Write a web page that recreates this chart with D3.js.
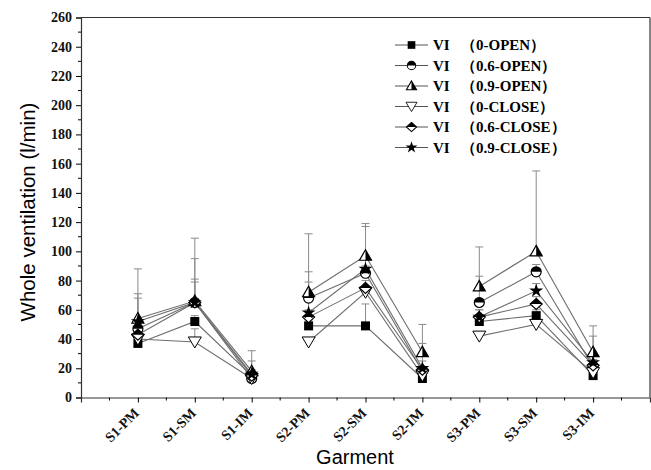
<!DOCTYPE html>
<html>
<head>
<meta charset="utf-8">
<script src="https://cdn.jsdelivr.net/npm/d3@7"></script>
<style>
  body { margin: 0; background: #fff; }
  svg { display: block; }
  .tick text { font-family: "Liberation Serif", "DejaVu Serif", serif; font-weight: bold; }
</style>
</head>
<body>
<svg id="chart" width="651" height="470"></svg>
<script>
var categories = ["S1-PM", "S1-SM", "S1-IM", "S2-PM", "S2-SM", "S2-IM", "S3-PM", "S3-SM", "S3-IM"]
var yTicks = [0, 20, 40, 60, 80, 100, 120, 140, 160, 180, 200, 220, 240, 260]

var seriesLabels = ["（0-OPEN）", "（0.6-OPEN）", "（0.9-OPEN）",
                    "（0-CLOSE）", "（0.6-CLOSE）", "（0.9-CLOSE）"]
var seriesSymbols = ["square", "halfCircle", "halfTriangle", "downTriangle", "halfDiamond", "star"]

var open0   = [37, 52, 15, 49, 49, 13, 52, 56, 15]
var open06  = [47, 65, 13, 68, 85, 18, 65, 86, 21]
var open09  = [54, 66, 18, 72, 97, 31, 76, 100, 31]
var close0  = [40, 38, 13, 38, 72, 15, 42, 50, 17]
var close06 = [43, 65, 15, 55, 75, 19, 55, 64, 22]
var close09 = [52, 65, 16, 58, 88, 20, 55, 73, 24]

// upper error (SD)
var open0Err   = [3, 4, 3, 4, 15, 3, 3, 4, 3]
var open06Err  = [24, 30, 3, 18, 5, 3, 18, 5, 3]
var open09Err  = [34, 43, 14, 40, 22, 19, 27, 55, 18]
var close0Err  = [3, 9, 3, 3, 4, 3, 3, 4, 3]
var close06Err = [5, 14, 4, 5, 5, 18, 5, 5, 4]
var close09Err = [16, 16, 9, 21, 29, 5, 5, 5, 18]

var seriesValues = [open0, open06, open09, close0, close06, close09]
var seriesErrors = [open0Err, open06Err, open09Err, close0Err, close06Err, close09Err]

var svg = d3.select("#chart")
var plotLeft = 81, plotRight = 650, plotTop = 17.5, plotBottom = 397.5

var x = d3.scaleLinear().domain([0, 10]).range([plotLeft, plotRight])
var y = d3.scaleLinear().domain([0, 260]).range([plotBottom, plotTop])

// frame
svg.append("line").attr("x1", plotLeft).attr("x2", plotRight).attr("y1", plotTop).attr("y2", plotTop)
  .attr("stroke", "#333").attr("stroke-width", 1.2)
svg.append("line").attr("x1", plotRight).attr("x2", plotRight).attr("y1", plotTop).attr("y2", plotBottom)
  .attr("stroke", "#333").attr("stroke-width", 1.2)

// y axis
var yAxis = svg.append("g").attr("transform", "translate(" + plotLeft + ",0)")
  .call(d3.axisLeft(y).tickValues(yTicks).tickSize(5).tickPadding(4))
yAxis.selectAll("text").style("font-size", "14px").attr("fill", "#111")
yAxis.append("g").selectAll("line").data(d3.range(10, 260, 20)).enter().append("line")
  .attr("x1", 0).attr("x2", -3).attr("y1", function(d) { return y(d) }).attr("y2", function(d) { return y(d) })
  .attr("stroke", "#000")

// x axis
var xAxis = svg.append("g").attr("transform", "translate(0," + plotBottom + ")")
  .call(d3.axisBottom(x).tickValues(d3.range(1, 10)).tickSize(5)
    .tickFormat(function(d) { return categories[d - 1] }))
xAxis.selectAll("text")
  .style("font-size", "14px").attr("fill", "#111")
  .attr("text-anchor", "end")
  .attr("x", 0).attr("y", 0).attr("dy", "0.35em")
  .attr("transform", "translate(-2,13) rotate(-45)")
xAxis.append("g").selectAll("line").data(d3.range(0.5, 10, 1)).enter().append("line")
  .attr("x1", function(d) { return x(d) }).attr("x2", function(d) { return x(d) })
  .attr("y1", 0).attr("y2", 3).attr("stroke", "#000")
svg.selectAll(".domain").attr("stroke", "#333").attr("stroke-width", 1.2)

// axis titles
svg.append("text")
  .attr("transform", "translate(35,212) rotate(-90)")
  .attr("text-anchor", "middle")
  .style("font-family", "'Liberation Sans', Arial, sans-serif").style("font-size", "20.5px")
  .text("Whole ventilation (l/min)")
svg.append("text")
  .attr("x", 355).attr("y", 464).attr("text-anchor", "middle")
  .style("font-family", "'Liberation Sans', Arial, sans-serif").style("font-size", "20px")
  .text("Garment")

// marker drawing
function drawMarker(g, type, cx, cy, k) {
  k = k || 1
  var m = g.append("g").attr("transform", "translate(" + cx + "," + cy + ") scale(" + k + ")")
  if (type === "square") {
    m.append("rect").attr("x", -4.5).attr("y", -4.5).attr("width", 9).attr("height", 9).attr("fill", "#000")
  } else if (type === "halfCircle") {
    m.append("circle").attr("r", 5).attr("fill", "#fff").attr("stroke", "#000").attr("stroke-width", 1.2)
    m.append("path").attr("d", "M-5,0 A5,5 0 0 1 5,0 Z").attr("fill", "#000")
  } else if (type === "halfTriangle") {
    m.append("path").attr("d", "M0,-6 L6,4.5 L-6,4.5 Z").attr("fill", "#fff").attr("stroke", "#000").attr("stroke-width", 1.2)
    m.append("path").attr("d", "M0,-6 L6,4.5 L0,4.5 Z").attr("fill", "#000")
  } else if (type === "downTriangle") {
    m.append("path").attr("d", "M-6.5,-5 L6.5,-5 L0,6 Z").attr("fill", "#fff").attr("stroke", "#000").attr("stroke-width", 1)
  } else if (type === "halfDiamond") {
    m.append("path").attr("d", "M0,-5.5 L6,0 L0,5.5 L-6,0 Z").attr("fill", "#fff").attr("stroke", "#000").attr("stroke-width", 1.2)
    m.append("path").attr("d", "M0,-5.5 L6,0 L-6,0 Z").attr("fill", "#000")
  } else if (type === "star") {
    m.append("path").attr("d", d3.symbol().type(d3.symbolStar).size(60)()).attr("fill", "#000")
  }
}

var plot = svg.append("g")
var groups = [[0, 1, 2], [3, 4, 5], [6, 7, 8]]

// lines
seriesValues.forEach(function(vals) {
  groups.forEach(function(idx) {
    plot.append("path")
      .datum(idx)
      .attr("fill", "none").attr("stroke", "#6e6e6e").attr("stroke-width", 1.1)
      .attr("d", d3.line().x(function(i) { return x(i + 1) }).y(function(i) { return y(vals[i]) }))
  })
})

// error bars (upper)
seriesValues.forEach(function(vals, s) {
  vals.forEach(function(v, i) {
    var e = seriesErrors[s][i]
    var cx = x(i + 1)
    plot.append("line").attr("x1", cx).attr("x2", cx).attr("y1", y(v)).attr("y2", y(v + e))
      .attr("stroke", "#8a8a8a").attr("stroke-width", 1)
    plot.append("line").attr("x1", cx - 4).attr("x2", cx + 4).attr("y1", y(v + e)).attr("y2", y(v + e))
      .attr("stroke", "#8a8a8a").attr("stroke-width", 1)
  })
})

// markers
seriesValues.forEach(function(vals, s) {
  vals.forEach(function(v, i) {
    drawMarker(plot, seriesSymbols[s], x(i + 1), y(v))
  })
})

// legend
var legend = svg.append("g")
seriesLabels.forEach(function(label, s) {
  var ly = 45 + s * 20.5
  legend.append("line").attr("x1", 395).attr("x2", 428).attr("y1", ly).attr("y2", ly)
    .attr("stroke", "#555").attr("stroke-width", 1)
  drawMarker(legend, seriesSymbols[s], 411.5, ly, 0.85)
  var t = legend.append("text").attr("y", ly).attr("dy", "0.35em")
    .style("font-family", "'Liberation Serif', serif").style("font-weight", "bold").style("font-size", "15px")
  t.append("tspan").attr("x", 433).text("VI")
  t.append("tspan").attr("x", 461).text(label)
})
</script>
</body>
</html>
